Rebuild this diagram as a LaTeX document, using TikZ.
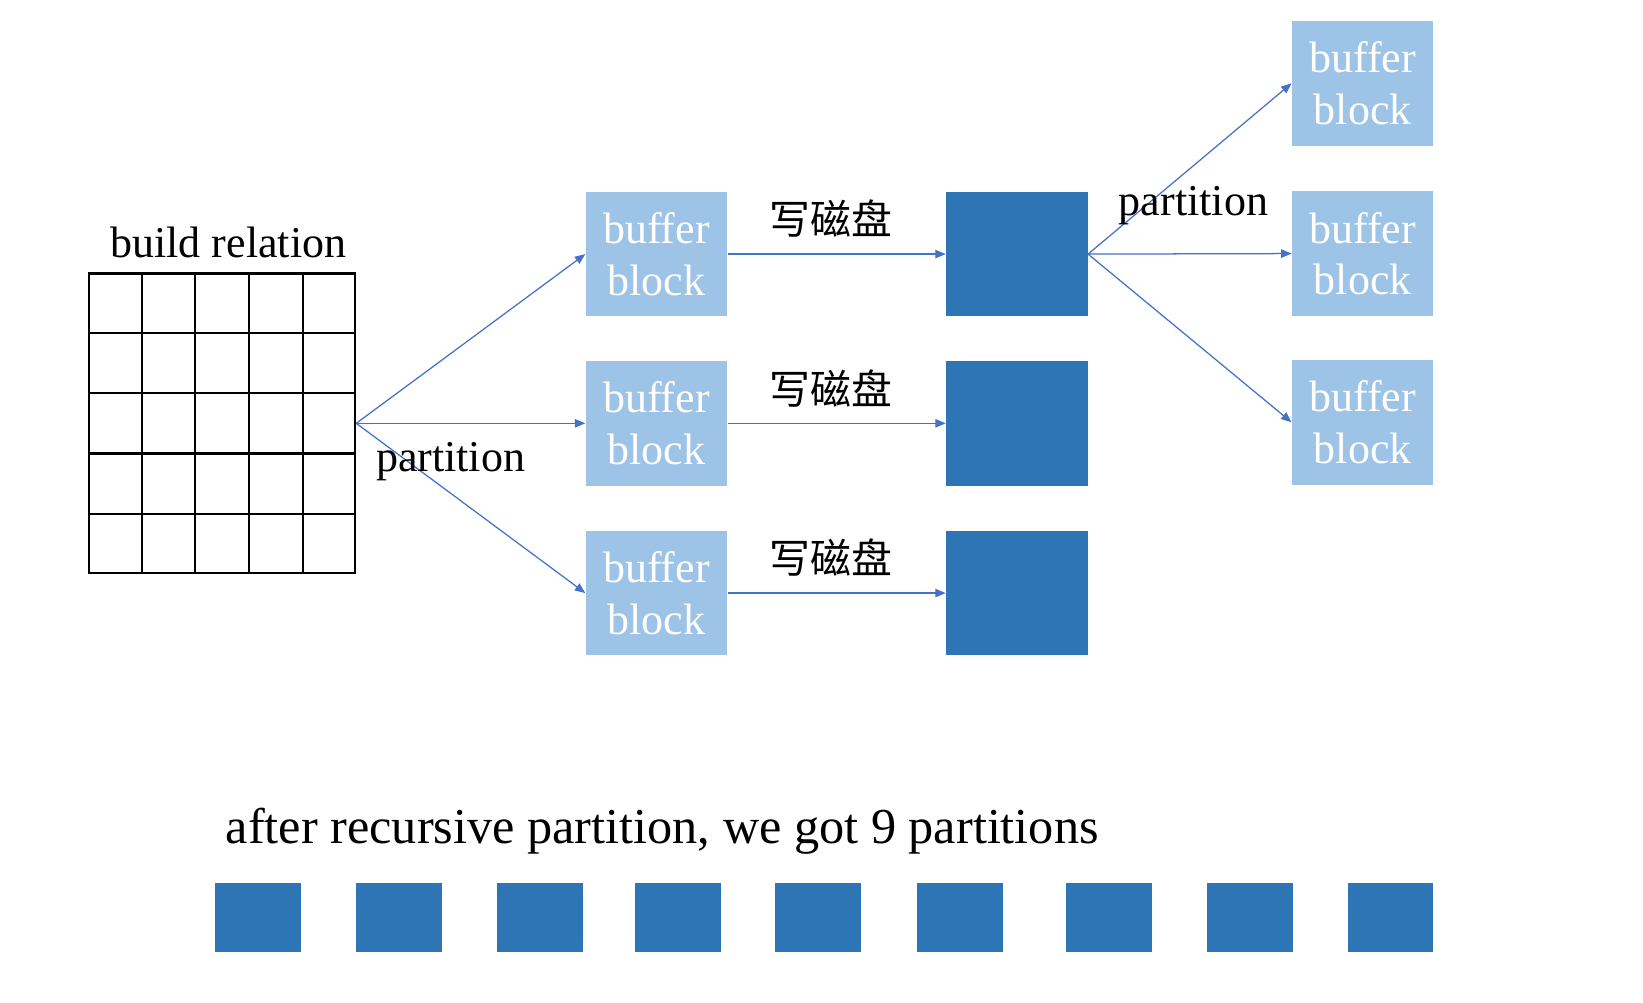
\documentclass[tikz,border=0pt]{standalone}
\usepackage{fontspec}
\setmainfont{Liberation Serif}
\newfontfamily\cjkfont{Noto Sans CJK SC}
\usetikzlibrary{arrows.meta,calc}
\definecolor{lightblk}{HTML}{9DC3E6}
\definecolor{darkblk}{HTML}{2E75B6}
\definecolor{arrowblue}{HTML}{4472C4}
\begin{document}
\begin{tikzpicture}[x=0.5pt,y=-0.5pt,
 bufbox/.style={fill=lightblk, minimum width=67.5pt, minimum height=59.5pt, inner sep=0pt, text=white, font=\fontsize{21}{24.5}\selectfont, align=center},
 diskbox/.style={fill=darkblk, minimum width=67.5pt, minimum height=59.5pt, inner sep=0pt},
 partbox/.style={fill=darkblk, minimum width=41pt, minimum height=33pt, inner sep=0pt},
 conn/.style={draw=arrowblue, line width=0.6pt, -{Triangle[length=5pt,width=4pt]}},
 lbl/.style={font=\fontsize{21}{24}\selectfont, inner sep=0pt, anchor=base},
 cjklbl/.style={font=\cjkfont\fontsize{19.5}{22}\selectfont, inner sep=0pt},
 gridline/.style={draw=black, line width=1pt}
]
\useasboundingbox (0,0) rectangle (1568,957);

% build relation grid
\node[gridline, minimum width=127pt, minimum height=143pt, inner sep=0pt] (grid) at (212,404) {};
\foreach \i in {1,...,4} {
  \draw[gridline] ($(grid.south west)!\i/5!(grid.south east)$) -- ($(grid.north west)!\i/5!(grid.north east)$);
  \draw[gridline] ($(grid.north west)!\i/5!(grid.south west)$) -- ($(grid.north east)!\i/5!(grid.south east)$);
}
\node[lbl] (buildlbl) at (218,246) {build relation};

% first-level buffer blocks
\node[bufbox] (b1) at (626.5,242.5) {buffer\\block};
\node[bufbox] (b2) at (626.5,404) {buffer\\block};
\node[bufbox] (b3) at (626.5,566) {buffer\\block};

% disk blocks
\node[diskbox] (d1) at (970.5,242.5) {};
\node[diskbox] (d2) at (970.5,404) {};
\node[diskbox] (d3) at (970.5,566) {};

% second-level buffer blocks
\node[bufbox] (r1) at (1300.5,79.5) {buffer\\block};
\node[bufbox] (r2) at (1300.5,242) {buffer\\block};
\node[bufbox] (r3) at (1300.5,403) {buffer\\block};

% connectors
\draw[conn] (grid.east) -- (b1.west);
\draw[conn] (grid.east) -- (b2.west);
\draw[conn] (grid.east) -- (b3.west);
\draw[conn] (b1.east) -- (d1.west);
\draw[conn] (b2.east) -- (d2.west);
\draw[conn] (b3.east) -- (d3.west);
\draw[conn] (d1.east) -- (r1.west);
\draw[conn] (d1.east) -- (r2.west);
\draw[conn] (d1.east) -- (r3.west);

% labels
\node[lbl] (plbl1) at (430,450) {partition};
\node[lbl] (plbl2) at (1139,206) {partition};
\node[cjklbl] (w1) at (793,209) {写磁盘};
\node[cjklbl] (w2) at (793,371) {写磁盘};
\node[cjklbl] (w3) at (793,532) {写磁盘};

% result
\node[lbl, font=\fontsize{24}{28}\selectfont] (result) at (632,805) {after recursive partition, we got 9 partitions};
\node[partbox] (p1) at (246,876) {};
\node[partbox] (p2) at (380.5,876) {};
\node[partbox] (p3) at (515,876) {};
\node[partbox] (p4) at (647,876) {};
\node[partbox] (p5) at (781,876) {};
\node[partbox] (p6) at (916,876) {};
\node[partbox] (p7) at (1058,876) {};
\node[partbox] (p8) at (1193,876) {};
\node[partbox] (p9) at (1327,876) {};
\end{tikzpicture}
\end{document}
